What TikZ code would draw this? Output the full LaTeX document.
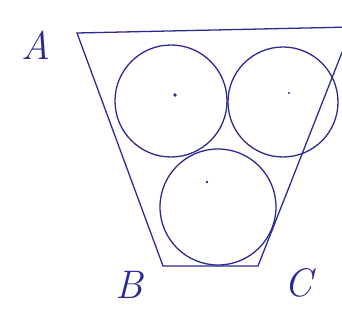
\documentclass[tikz,border=0pt]{standalone}
\usepackage{tikz}
\usepackage{xcolor}
\usetikzlibrary{calc}
\definecolor{inkblue}{RGB}{42, 42, 145}

\begin{document}
\begin{tikzpicture}[x=0.03cm, y=-0.03cm, line width=1.1pt, inkblue]
\useasboundingbox (0,0) rectangle (342,320);

\coordinate (A) at (77,33);
\coordinate (B) at (163,266);
\coordinate (C) at (258,266);
\coordinate (D) at (352,27);

\draw (A) -- (B) -- (C) -- (D) -- cycle;

\draw (171,101) circle (56);
\draw (283,102) circle (55);
\draw (218,207) circle (58);

\fill (175,95) circle (1.8);
\fill (289,93) circle (1.2);
\fill (207,182) circle (1.4);

\node[font=\fontsize{34}{34}\selectfont\itshape] (lblA) at (36,45) {A};
\node[font=\fontsize{34}{34}\selectfont\itshape] (lblB) at (129,285) {B};
\node[font=\fontsize{34}{34}\selectfont\itshape] (lblC) at (298,283) {C};

\end{tikzpicture}
\end{document}
